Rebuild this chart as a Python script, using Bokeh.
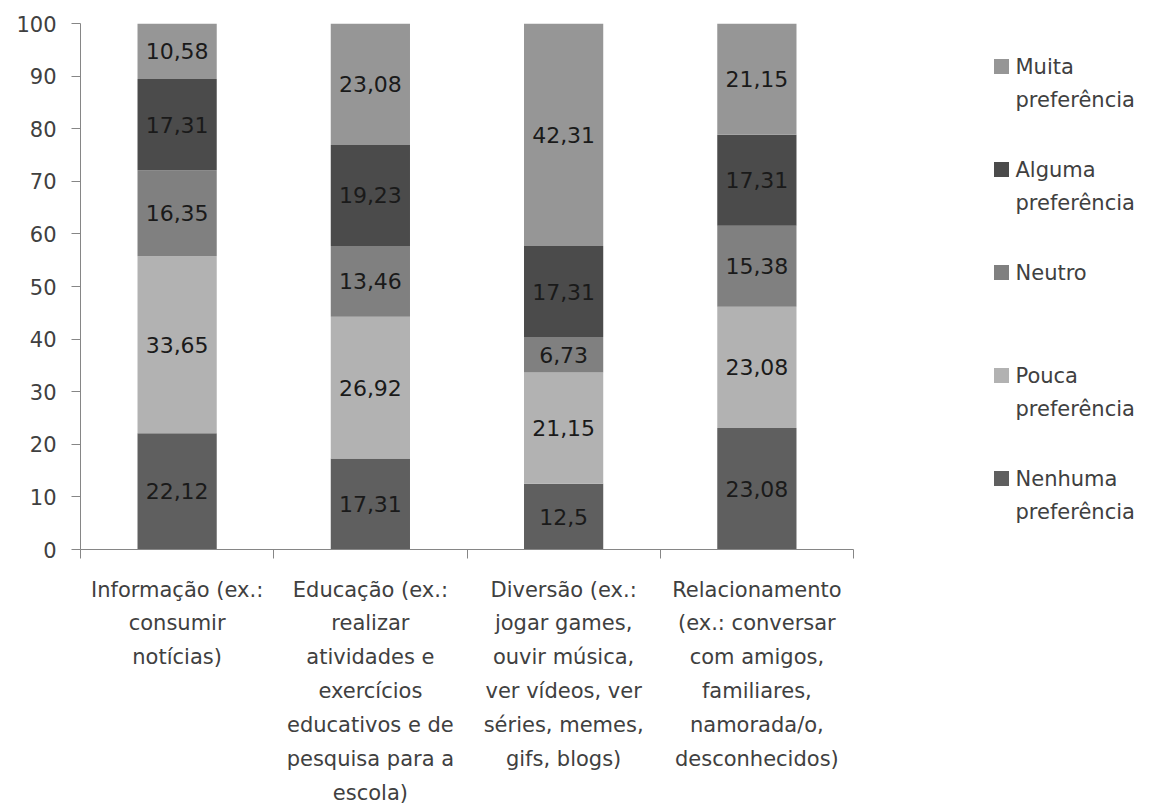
from bokeh.plotting import figure
from bokeh.layouts import row
from bokeh.models import ColumnDataSource, Range1d, FixedTicker
from bokeh.core.properties import value
from bokeh.embed import file_html
from bokeh.resources import INLINE

# Activity categories and their multi-line axis labels
categories = ["Informação", "Educação", "Diversão", "Relacionamento"]
category_labels = [
    "Informação (ex.:\nconsumir\nnotícias)",
    "Educação (ex.:\nrealizar\natividades e\nexercícios\neducativos e de\npesquisa para a\nescola)",
    "Diversão (ex.:\njogar games,\nouvir música,\nver vídeos, ver\nséries, memes,\ngifs, blogs)",
    "Relacionamento\n(ex.: conversar\ncom amigos,\nfamiliares,\nnamorada/o,\ndesconhecidos)",
]

# Stack order, bottom to top
series_names = ["Nenhuma preferência", "Pouca preferência", "Neutro",
                "Alguma preferência", "Muita preferência"]
legend_labels = ["Nenhuma\npreferência", "Pouca\npreferência", "Neutro",
                 "Alguma\npreferência", "Muita\npreferência"]
nenhuma = [22.12, 17.31, 12.5, 23.08]
pouca = [33.65, 26.92, 21.15, 23.08]
neutro = [16.35, 13.46, 6.73, 15.38]
alguma = [17.31, 19.23, 17.31, 17.31]
muita = [10.58, 23.08, 42.31, 21.15]
series_values = [nenhuma, pouca, neutro, alguma, muita]
colors = ["#5f5f5f", "#b2b2b2", "#808080", "#4b4b4b", "#969696"]
y_ticks = list(range(0, 101, 10))

FONT_NAME = "DejaVu Sans"
FONT = value(FONT_NAME)
AXIS_COLOR = "#868686"
TEXT_COLOR = "#404040"

# Shared outer margins so the chart and legend panels line up
TOP, BOTTOM = 23, 261
H = 810

n = len(categories)
centers = [i + 0.5 for i in range(n)]

p = figure(width=880, height=H, x_range=Range1d(0, n), y_range=Range1d(0, 100),
           output_backend="svg", toolbar_location=None,
           min_border_left=80, min_border_right=27, min_border_top=TOP,
           min_border_bottom=BOTTOM)
p.outline_line_color = None
p.xgrid.visible = False
p.ygrid.visible = False

bottoms = [0.0] * n
for name, vals, col in zip(series_names, series_values, colors):
    tops = [b + v for b, v in zip(bottoms, vals)]
    src = ColumnDataSource(dict(
        x=centers, bottom=bottoms, top=tops,
        mid=[(b + t) / 2 for b, t in zip(bottoms, tops)],
        label=[str(v).replace(".", ",") for v in vals],
    ))
    p.vbar(x="x", bottom="bottom", top="top", width=0.41, source=src,
           fill_color=col, line_color=None)
    p.text(x="x", y="mid", text="label", source=src, text_font=FONT,
           text_font_size="22px", text_color="#1a1a1a",
           text_align="center", text_baseline="middle")
    bottoms = tops

# x axis: labels at bar centres, tick marks on category boundaries
xa = p.xaxis[0]
xa.ticker = FixedTicker(ticks=centers, minor_ticks=list(range(n + 1)))
xa.major_label_overrides = {c: lab for c, lab in zip(centers, category_labels)}
xa.major_tick_out = 0
xa.major_tick_in = 0
xa.minor_tick_out = 9
xa.minor_tick_in = 0
xa.minor_tick_line_color = AXIS_COLOR
xa.axis_line_color = AXIS_COLOR
xa.major_label_text_font = FONT_NAME
xa.major_label_text_font_size = "21px"
xa.major_label_text_color = TEXT_COLOR
xa.major_label_text_line_height = 1.41
xa.major_label_standoff = 19
xa.major_label_orientation = "horizontal"

ya = p.yaxis[0]
ya.ticker = FixedTicker(ticks=y_ticks, minor_ticks=[])
ya.major_tick_out = 9
ya.major_tick_in = 0
ya.major_tick_line_color = AXIS_COLOR
ya.axis_line_color = AXIS_COLOR
ya.major_label_text_font = FONT_NAME
ya.major_label_text_font_size = "21px"
ya.major_label_text_color = TEXT_COLOR
ya.major_label_standoff = 15

# Legend panel: its y range runs in pixels from the top of the page
leg = figure(width=270, height=H, x_range=Range1d(0, 270),
             y_range=Range1d(H - BOTTOM, TOP),
             output_backend="svg", toolbar_location=None,
             x_axis_type=None, y_axis_type=None,
             min_border_left=0, min_border_right=0,
             min_border_top=TOP, min_border_bottom=BOTTOM)
leg.outline_line_color = None
leg.xgrid.visible = False
leg.ygrid.visible = False

order = list(range(len(series_names)))[::-1]
top_y, step = 66, 103
leg_src = ColumnDataSource(dict(
    y=[top_y + k * step for k in range(len(order))],
    ty=[top_y + k * step - 12 for k in range(len(order))],
    color=[colors[i] for i in order],
    label=[legend_labels[i] for i in order],
))
leg.scatter(x=121, y="y", marker="square", size=15, fill_color="color",
            line_color=None, source=leg_src)
leg.text(x=135, y="ty", text="label", source=leg_src, text_font=FONT,
         text_font_size="21px", text_color=TEXT_COLOR, text_align="left",
         text_baseline="top", text_line_height=1.38)

layout = row(p, leg)
open("out.html", "w").write(file_html(layout, INLINE))
